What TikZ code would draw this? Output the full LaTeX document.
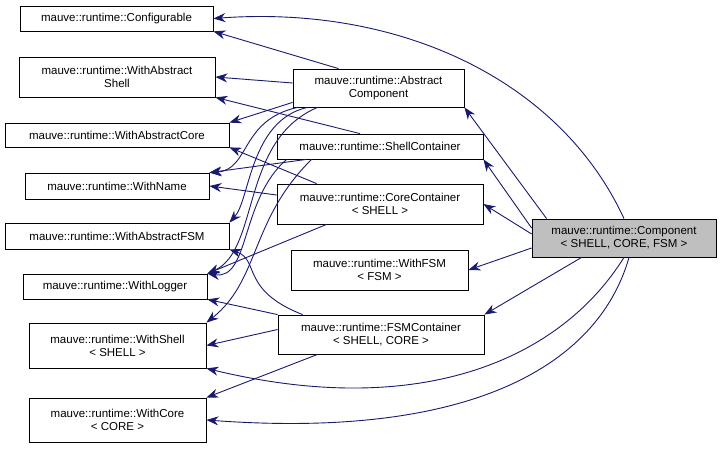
\documentclass[tikz,border=0pt]{standalone}
\usepackage{fontspec}
\setmainfont{Liberation Sans}
\usetikzlibrary{arrows.meta}
\definecolor{edge}{RGB}{25,25,112}
\begin{document}
\begin{tikzpicture}[x=1pt,y=-1pt,
 box/.style={draw, line width=0.8pt, fill=white, inner sep=0pt, align=center, font=\fontsize{11.5}{13}\selectfont},
 e/.style={draw=edge, line width=0.9pt, -{Stealth[length=12pt,width=9pt]}}]
\useasboundingbox (0,0) rectangle (723,449);
\newcommand{\bx}[6]{\node[box,minimum width=#4-#2,minimum height=#5-#3,#6] (#1) at ({(#2+#4)/2},{(#3+#5)/2})}
\bx{conf}{20}{6}{213}{31}{}{mauve::runtime::Configurable};
\bx{was}{19}{57}{215}{97}{}{mauve::runtime::WithAbstract\\Shell};
\bx{wac}{5}{123}{229}{147}{}{mauve::runtime::WithAbstractCore};
\bx{wn}{25}{173}{209}{199}{}{mauve::runtime::WithName};
\bx{waf}{5}{223}{229}{249}{}{mauve::runtime::WithAbstractFSM};
\bx{wl}{23}{274}{207}{299}{}{mauve::runtime::WithLogger};
\bx{ws}{29}{323}{206}{368}{}{mauve::runtime::WithShell\\< SHELL >};
\bx{wc}{29}{398}{206}{442}{}{mauve::runtime::WithCore\\< CORE >};
\bx{ac}{293}{69}{464}{107}{}{mauve::runtime::Abstract\\Component};
\bx{sc}{277}{134}{483}{159}{}{mauve::runtime::ShellContainer};
\bx{cc}{277}{184}{483}{224}{}{mauve::runtime::CoreContainer\\< SHELL >};
\bx{wf}{291}{250}{468}{290}{}{mauve::runtime::WithFSM\\< FSM >};
\bx{fc}{278}{315}{484}{354}{}{mauve::runtime::FSMContainer\\< SHELL, CORE >};
\bx{comp}{532}{219}{716}{257}{fill={rgb,255:red,191;green,191;blue,191}}{mauve::runtime::Component\\< SHELL, CORE, FSM >};
% Component edges
\draw[e] (comp.north) .. controls (560,80) and (400,5) .. (conf.east);
\draw[e] (comp.north west) ++(15,0) -- (ac.south east);
\draw[e] (comp.west) ++(0,-10) -- (sc.south east);
\draw[e] (comp.west) ++(0,-4) -- (cc.east);
\draw[e] (comp.west) ++(0,10) -- (wf.east);
\draw[e] (comp.south west) ++(50,0) -- (fc.north east);
\draw[e] (comp.south) .. controls (560,360) and (420,420) .. (ws.south east);
\draw[e] (comp.south) ++(5,0) .. controls (600,360) and (480,440) .. (wc.east);
% AbstractComponent edges
\draw[e] (ac.north) ++(-40,0) -- (conf.south east);
\draw[e] (ac.west) ++(0,-5) -- (was.east);
\draw[e] (ac.south west) ++(0,-5) -- (wac.north east);
\draw[e] (ac.south west) ++(5,0) .. controls (240,120) and (250,170) .. (wn.north east);
\draw[e] (ac.south west) ++(15,0) .. controls (250,120) and (250,200) .. (waf.north east);
\draw[e] (ac.south west) ++(25,0) .. controls (240,140) and (260,250) .. (wl.north east);
% ShellContainer edges
\draw[e] (sc.north) ++(-20,0) -- (was.south east);
\draw[e] (sc.south west) ++(30,0) -- (wn.north east);
\draw[e] (sc.south west) ++(10,0) .. controls (240,200) and (250,280) .. (wl.north east);
\draw[e] (sc.south west) ++(35,0) .. controls (250,220) and (260,280) .. (ws.north east);
% CoreContainer edges
\draw[e] (cc.north west) ++(40,0) -- (wac.south east);
\draw[e] (cc.west) ++(0,-9) -- (wn.east);
\draw[e] (cc.south west) ++(50,0) -- (wl.north east);
% FSMContainer edges
\draw[e] (fc.north west) ++(25,0) .. controls (240,290) and (260,260) .. (waf.south east);
\draw[e] (fc.north west) -- (wl.south east);
\draw[e] (fc.west) ++(0,-5) -- (ws.east);
\draw[e] (fc.south west) ++(40,0) -- (wc.north east);
\end{tikzpicture}
\end{document}
